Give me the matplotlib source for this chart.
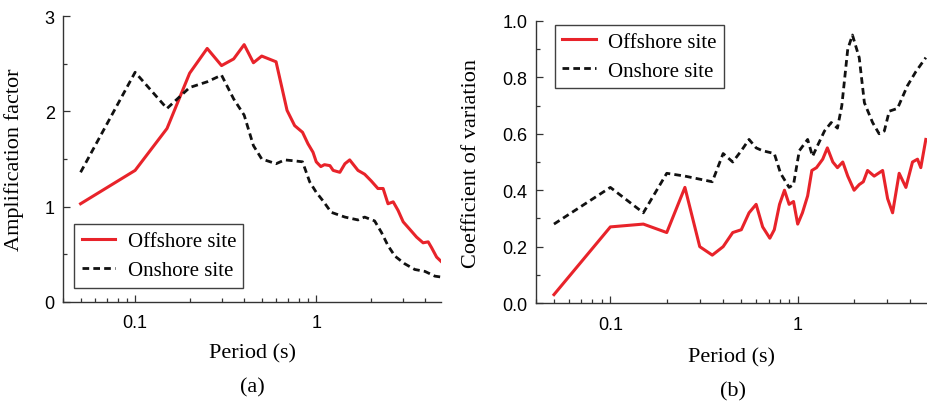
import numpy as np
import matplotlib
matplotlib.use("Agg")
import matplotlib.pyplot as plt
from matplotlib.ticker import LogLocator, FixedLocator, MultipleLocator, NullFormatter

# (a) amplification factor vs period
amp_off_T = [0.05, 0.1, 0.15, 0.2, 0.25, 0.3, 0.35, 0.4, 0.45, 0.5, 0.6, 0.69, 0.76,
             0.84, 0.9, 0.96, 1.0, 1.06, 1.11, 1.19, 1.24, 1.35, 1.44, 1.53, 1.70,
             1.85, 2.01, 2.19, 2.34, 2.49, 2.66, 2.83, 3.02, 3.29, 3.58, 3.89, 4.15,
             4.33, 4.62, 4.92]
amp_off = [1.03, 1.38, 1.82, 2.40, 2.66, 2.48, 2.55, 2.70, 2.51, 2.58, 2.52, 2.01, 1.85,
           1.78, 1.66, 1.57, 1.47, 1.42, 1.44, 1.43, 1.38, 1.36, 1.45, 1.49, 1.38,
           1.34, 1.27, 1.19, 1.19, 1.03, 1.05, 0.96, 0.84, 0.76, 0.68, 0.62, 0.63,
           0.57, 0.47, 0.42]

amp_on_T = [0.05, 0.1, 0.15, 0.2, 0.25, 0.3, 0.35, 0.4, 0.45, 0.5, 0.6, 0.67, 0.76,
            0.84, 0.92, 1.0, 1.09, 1.21, 1.44, 1.70, 1.85, 2.10, 2.29, 2.49, 2.72,
            3.08, 3.50, 3.98, 4.52, 4.92]
amp_on = [1.36, 2.41, 2.03, 2.25, 2.31, 2.38, 2.13, 1.96, 1.64, 1.50, 1.45, 1.49, 1.48,
          1.47, 1.26, 1.15, 1.06, 0.94, 0.89, 0.86, 0.89, 0.85, 0.73, 0.59, 0.48,
          0.40, 0.34, 0.32, 0.27, 0.26]

# (b) coefficient of variation vs period
cov_off_T = [0.05, 0.1, 0.15, 0.2, 0.25, 0.3, 0.35, 0.4, 0.45, 0.5, 0.55, 0.6, 0.65,
             0.71, 0.75, 0.8, 0.85, 0.9, 0.95, 1.0, 1.06, 1.13, 1.19, 1.26, 1.36,
             1.44, 1.54, 1.63, 1.74, 1.85, 2.0, 2.13, 2.24, 2.36, 2.56, 2.84, 3.02,
             3.21, 3.48, 3.78, 4.10, 4.36, 4.54, 4.83]
cov_off = [0.03, 0.27, 0.28, 0.25, 0.41, 0.20, 0.17, 0.20, 0.25, 0.26, 0.32, 0.35, 0.27,
           0.23, 0.26, 0.35, 0.40, 0.35, 0.36, 0.28, 0.32, 0.38, 0.47, 0.48, 0.51,
           0.55, 0.50, 0.48, 0.50, 0.45, 0.40, 0.42, 0.43, 0.47, 0.45, 0.47, 0.37,
           0.32, 0.46, 0.41, 0.50, 0.51, 0.48, 0.58]

cov_on_T = [0.05, 0.1, 0.15, 0.2, 0.25, 0.35, 0.4, 0.45, 0.5, 0.55, 0.6, 0.65, 0.75,
            0.81, 0.9, 0.95, 1.02, 1.13, 1.20, 1.28, 1.39, 1.51, 1.63, 1.72, 1.85,
            1.96, 2.13, 2.27, 2.51, 2.72, 2.90, 3.08, 3.41, 3.85, 4.27, 4.83]
cov_on = [0.28, 0.41, 0.32, 0.46, 0.45, 0.43, 0.53, 0.50, 0.54, 0.58, 0.55, 0.54, 0.53,
          0.46, 0.41, 0.42, 0.54, 0.58, 0.52, 0.56, 0.61, 0.64, 0.62, 0.70, 0.90,
          0.95, 0.87, 0.71, 0.64, 0.60, 0.61, 0.68, 0.69, 0.77, 0.82, 0.87]

RED = "#e8232a"
SERIF = "Liberation Serif"
SANS = "Liberation Sans"

plt.rcParams["font.family"] = SANS


def style_axes(ax, ymax, ymajor, yminor):
    ax.set_xscale("log")
    ax.set_xlim(0.04, 4.9)
    ax.set_ylim(0, ymax)
    ax.spines["top"].set_visible(False)
    ax.spines["right"].set_visible(False)
    for s in ("left", "bottom"):
        ax.spines[s].set_color("#333333")
        ax.spines[s].set_linewidth(1.0)
    ax.xaxis.set_major_locator(FixedLocator([0.1, 1]))
    ax.set_xticklabels(["0.1", "1"])
    ax.xaxis.set_minor_locator(LogLocator(base=10, subs=np.arange(2, 10)))
    ax.xaxis.set_minor_formatter(NullFormatter())
    ax.yaxis.set_major_locator(MultipleLocator(ymajor))
    ax.yaxis.set_minor_locator(MultipleLocator(yminor))
    ax.tick_params(which="both", direction="in", color="#333333", width=0.9)
    ax.tick_params(which="major", length=5)
    ax.tick_params(which="minor", length=3)
    ax.tick_params(axis="x", which="major", pad=9, labelsize=13)
    ax.tick_params(axis="y", which="major", pad=6, labelsize=13)


fig = plt.figure(figsize=(9.27, 4.06), dpi=100)
ax1 = fig.add_axes([0.068, 0.254, 0.408, 0.704])
ax2 = fig.add_axes([0.578, 0.251, 0.422, 0.695])

ax1.plot(amp_off_T, amp_off, color=RED, lw=2.2, label="Offshore site")
ax1.plot(amp_on_T, amp_on, color="#111111", lw=2.0, dashes=(2.4, 1.5), label="Onshore site")
style_axes(ax1, 3, 1, 0.5)
ax1.set_yticklabels(["0", "1", "2", "3"])
ax1.yaxis.set_major_formatter(plt.FuncFormatter(lambda v, p: f"{v:.0f}"))
ax1.set_ylabel("Amplification factor", family=SERIF, fontsize=16, va="center")
ax1.yaxis.set_label_coords(-0.13, 0.5)
ax1.set_xlabel("Period (s)", family=SERIF, fontsize=16, va="center")
ax1.xaxis.set_label_coords(0.5, -0.178)
leg1 = ax1.legend(loc="lower left", bbox_to_anchor=(0.03, 0.05), prop={"family": SERIF, "size": 15},
                  fancybox=False, edgecolor="#111111", handlelength=1.6, borderpad=0.35,
                  labelspacing=0.45, handletextpad=0.6, borderaxespad=0)
leg1.get_frame().set_linewidth(1.0)

ax2.plot(cov_off_T, cov_off, color=RED, lw=2.2, label="Offshore site")
ax2.plot(cov_on_T, cov_on, color="#111111", lw=2.0, dashes=(2.4, 1.5), label="Onshore site")
style_axes(ax2, 1.0, 0.2, 0.1)
ax2.yaxis.set_major_formatter(plt.FuncFormatter(lambda v, p: f"{v:.1f}"))
ax2.set_ylabel("Coefficient of variation", family=SERIF, fontsize=16, va="center")
ax2.yaxis.set_label_coords(-0.164, 0.5)
ax2.set_xlabel("Period (s)", family=SERIF, fontsize=16, va="center")
ax2.xaxis.set_label_coords(0.5, -0.19)
leg2 = ax2.legend(loc="upper left", bbox_to_anchor=(0.049, 0.986), prop={"family": SERIF, "size": 15},
                  fancybox=False, edgecolor="#111111", handlelength=1.6, borderpad=0.35,
                  labelspacing=0.45, handletextpad=0.6, borderaxespad=0)
leg2.get_frame().set_linewidth(1.0)

fig.text(252 / 927, 0.044, "(a)", family=SERIF, fontsize=16, ha="center", va="center")
fig.text(733 / 927, 0.036, "(b)", family=SERIF, fontsize=16, ha="center", va="center")

fig.savefig("out.png", dpi=100)
